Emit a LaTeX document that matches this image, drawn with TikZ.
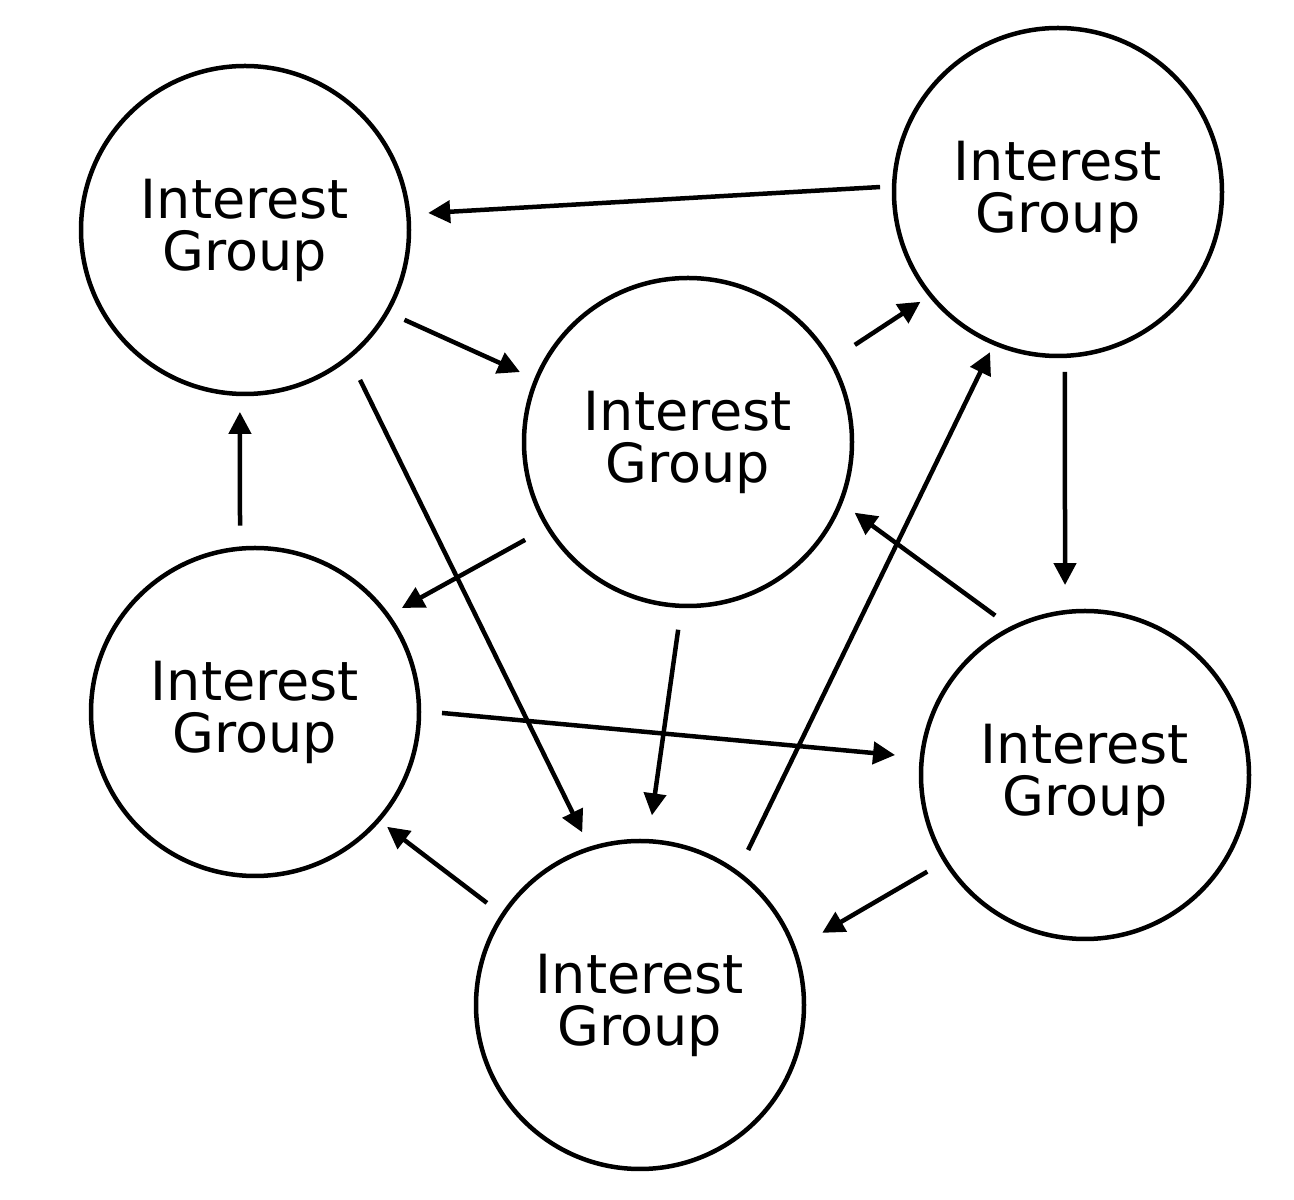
\documentclass[tikz,border=0pt]{standalone}
\usepackage{fontspec}
\setmainfont{DejaVu Sans}
\usetikzlibrary{calc,arrows.meta}
\tikzset{
  group/.style={circle,draw=black,line width=4.5pt,minimum size=328pt,inner sep=0pt,
    align=center,font=\fontsize{54}{52}\selectfont},
  link/.style={line width=4.5pt,-{Triangle[length=22pt,width=22pt]}}
}
\begin{document}
\begin{tikzpicture}[x=1pt,y=1pt]
\useasboundingbox (0,0) rectangle (1294,1200);
\node[group] (TL) at (245,970) {Interest\\Group};
\node[group] (TR) at (1058,1008) {Interest\\Group};
\node[group] (C) at (688,758) {Interest\\Group};
\node[group] (ML) at (255,488) {Interest\\Group};
\node[group] (MR) at (1085,425) {Interest\\Group};
\node[group] (B) at (640,195) {Interest\\Group};
\draw[link] ($(TR)+(178.4:178)$) -- ($(TL)+(5.3:184)$);
\draw[link] ($(TL)+(-29.4:183)$) -- ($(C)+(157.4:182)$);
\draw[link] ($(C)+(30.2:193)$) -- ($(TR)+(218.6:176)$);
\draw[link] ($(B)+(55.1:189)$) -- ($(TR)+(247:174)$);
\draw[link] ($(TR)+(-87.8:180)$) -- ($(MR)+(96:191)$);
\draw[link] ($(MR)+(119.4:183)$) -- ($(C)+(-23:181)$);
\draw[link] ($(TL)+(-52.5:189)$) -- ($(B)+(108.5:182)$);
\draw[link] ($(C)+(211:190)$) -- ($(ML)+(35.3:180)$);
\draw[link] ($(ML)+(94.6:187)$) -- ($(TL)+(268.4:182)$);
\draw[link] ($(C)+(267:188)$) -- ($(B)+(86.4:190)$);
\draw[link] ($(ML)+(-0.3:187)$) -- ($(MR)+(174:191)$);
\draw[link] ($(B)+(146.3:184)$) -- ($(ML)+(-41:175)$);
\draw[link] ($(MR)+(211.5:185)$) -- ($(B)+(21.6:196)$);
\end{tikzpicture}
\end{document}
